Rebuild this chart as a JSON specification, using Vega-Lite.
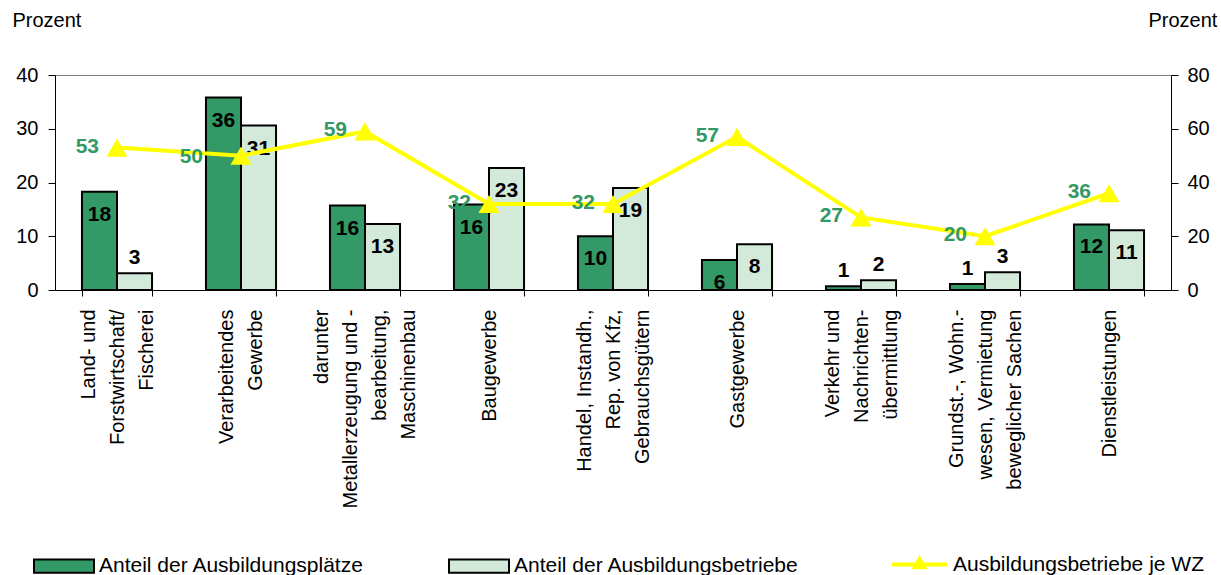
{
  "$schema": "https://vega.github.io/schema/vega-lite/v6.json",
  "autosize": "none",
  "width": 1116,
  "height": 215,
  "padding": {"left": 55, "top": 75, "right": 50, "bottom": 285},
  "background": "white",
  "config": {
    "font": "Liberation Sans",
    "view": {"stroke": "#808080", "strokeWidth": 1},
    "axis": {"domainColor": "black", "tickColor": "black", "labelColor": "black", "titleColor": "black", "grid": false}
  },
  "datasets": {
    "bars": [
      {"cat": "Land- und|Forstwirtschaft/|Fischerei", "series": "Anteil der Ausbildungsplätze", "value": 18.3, "label": "18"},
      {"cat": "Land- und|Forstwirtschaft/|Fischerei", "series": "Anteil der Ausbildungsbetriebe", "value": 3.1, "label": "3"},
      {"cat": "Verarbeitendes|Gewerbe", "series": "Anteil der Ausbildungsplätze", "value": 35.8, "label": "36"},
      {"cat": "Verarbeitendes|Gewerbe", "series": "Anteil der Ausbildungsbetriebe", "value": 30.6, "label": "31"},
      {"cat": "darunter|Metallerzeugung und -|bearbeitung,|Maschinenbau", "series": "Anteil der Ausbildungsplätze", "value": 15.7, "label": "16"},
      {"cat": "darunter|Metallerzeugung und -|bearbeitung,|Maschinenbau", "series": "Anteil der Ausbildungsbetriebe", "value": 12.3, "label": "13"},
      {"cat": "Baugewerbe", "series": "Anteil der Ausbildungsplätze", "value": 15.9, "label": "16"},
      {"cat": "Baugewerbe", "series": "Anteil der Ausbildungsbetriebe", "value": 22.7, "label": "23"},
      {"cat": "Handel, Instandh.,|Rep. von Kfz,|Gebrauchsgütern", "series": "Anteil der Ausbildungsplätze", "value": 10.0, "label": "10"},
      {"cat": "Handel, Instandh.,|Rep. von Kfz,|Gebrauchsgütern", "series": "Anteil der Ausbildungsbetriebe", "value": 19.0, "label": "19"},
      {"cat": "Gastgewerbe", "series": "Anteil der Ausbildungsplätze", "value": 5.6, "label": "6"},
      {"cat": "Gastgewerbe", "series": "Anteil der Ausbildungsbetriebe", "value": 8.5, "label": "8"},
      {"cat": "Verkehr und|Nachrichten-|übermittlung", "series": "Anteil der Ausbildungsplätze", "value": 0.7, "label": "1"},
      {"cat": "Verkehr und|Nachrichten-|übermittlung", "series": "Anteil der Ausbildungsbetriebe", "value": 1.8, "label": "2"},
      {"cat": "Grundst.-, Wohn.-|wesen, Vermietung|beweglicher Sachen", "series": "Anteil der Ausbildungsplätze", "value": 1.1, "label": "1"},
      {"cat": "Grundst.-, Wohn.-|wesen, Vermietung|beweglicher Sachen", "series": "Anteil der Ausbildungsbetriebe", "value": 3.3, "label": "3"},
      {"cat": "Dienstleistungen", "series": "Anteil der Ausbildungsplätze", "value": 12.2, "label": "12"},
      {"cat": "Dienstleistungen", "series": "Anteil der Ausbildungsbetriebe", "value": 11.1, "label": "11"}
    ],
    "line": [
      {"cat": "Land- und|Forstwirtschaft/|Fischerei", "wz": 53},
      {"cat": "Verarbeitendes|Gewerbe", "wz": 50},
      {"cat": "darunter|Metallerzeugung und -|bearbeitung,|Maschinenbau", "wz": 59},
      {"cat": "Baugewerbe", "wz": 32},
      {"cat": "Handel, Instandh.,|Rep. von Kfz,|Gebrauchsgütern", "wz": 32},
      {"cat": "Gastgewerbe", "wz": 57},
      {"cat": "Verkehr und|Nachrichten-|übermittlung", "wz": 27},
      {"cat": "Grundst.-, Wohn.-|wesen, Vermietung|beweglicher Sachen", "wz": 20},
      {"cat": "Dienstleistungen", "wz": 36}
    ]
  },
  "encoding": {
    "x": {
      "field": "cat", "type": "nominal", "sort": null,
      "scale": {"paddingInner": 0.435, "paddingOuter": 0.2175},
      "axis": {
        "title": null,
        "labelExpr": "split(datum.label, '|')",
        "labelAngle": -90,
        "labelAlign": "right",
        "labelBaseline": "middle",
        "labelFontSize": 20,
        "labelLineHeight": 29,
        "labelLimit": 400,
        "labelPadding": 13,
        "labelOffset": {
          "condition": [
            {"test": "length(split(datum.value, '|')) == 4", "value": -43.5},
            {"test": "length(split(datum.value, '|')) == 3", "value": -29},
            {"test": "length(split(datum.value, '|')) == 2", "value": -14.5}
          ],
          "value": 0
        },
        "tickBand": "extent",
        "tickSize": 6,
        "domainColor": "black"
      }
    }
  },
  "layer": [
    {
      "data": {"name": "bars"},
      "layer": [
        {
          "mark": {"type": "bar", "stroke": "black", "strokeWidth": 2},
          "encoding": {
            "xOffset": {"field": "series", "type": "nominal", "sort": ["Anteil der Ausbildungsplätze", "Anteil der Ausbildungsbetriebe"]},
            "y": {
              "field": "value", "type": "quantitative",
              "scale": {"domain": [0, 40], "nice": false},
              "axis": {
                "orient": "left", "values": [0, 10, 20, 30, 40],
                "title": "Prozent", "titleAngle": 0, "titleAlign": "left", "titleBaseline": "middle",
                "titleX": -43, "titleY": -55, "titleFontSize": 20, "titleFontWeight": "normal",
                "labelFontSize": 20, "tickSize": 7, "labelPadding": 10
              }
            },
            "fill": {
              "field": "series", "type": "nominal",
              "scale": {"domain": ["Anteil der Ausbildungsplätze", "Anteil der Ausbildungsbetriebe"], "range": ["#339966", "#d3eadb"]},
              "legend": {
                "title": null, "orient": "none", "direction": "horizontal",
                "legendX": -22, "legendY": 460, "padding": 0,
                "symbolType": "M-1,-0.22H1V0.22H-1Z", "symbolSize": 3600,
                "symbolStrokeColor": "black", "symbolStrokeWidth": 2,
                "labelFontSize": 21, "labelOffset": 4, "columnPadding": 80, "labelLimit": 400
              }
            }
          }
        },
        {
          "transform": [{"filter": "datum.value >= 5"}],
          "mark": {"type": "text", "fontWeight": "bold", "fontSize": 21, "baseline": "middle", "dy": 23, "color": "black"},
          "encoding": {
            "xOffset": {"field": "series", "type": "nominal", "sort": ["Anteil der Ausbildungsplätze", "Anteil der Ausbildungsbetriebe"]},
            "y": {"field": "value", "type": "quantitative"},
            "text": {"field": "label"}
          }
        },
        {
          "transform": [{"filter": "datum.value < 5"}],
          "mark": {"type": "text", "fontWeight": "bold", "fontSize": 21, "baseline": "middle", "dy": -15, "color": "black"},
          "encoding": {
            "xOffset": {"field": "series", "type": "nominal", "sort": ["Anteil der Ausbildungsplätze", "Anteil der Ausbildungsbetriebe"]},
            "y": {"field": "value", "type": "quantitative"},
            "text": {"field": "label"}
          }
        }
      ]
    },
    {
      "data": {"name": "line"},
      "layer": [
        {
          "mark": {"type": "line", "strokeWidth": 4},
          "encoding": {
            "y": {
              "field": "wz", "type": "quantitative",
              "scale": {"domain": [0, 80], "nice": false},
              "axis": {
                "orient": "right", "values": [0, 20, 40, 60, 80],
                "title": "Prozent", "titleAngle": 0, "titleAlign": "left", "titleBaseline": "middle",
                "titleX": -23, "titleY": -55, "titleFontSize": 20, "titleFontWeight": "normal",
                "labelFontSize": 20, "tickSize": 7, "labelPadding": 9
              }
            },
            "stroke": {
              "datum": "Ausbildungsbetriebe je WZ",
              "scale": {"range": ["#ffff00"]},
              "legend": {
                "title": null, "orient": "none", "legendX": 835, "legendY": 460, "padding": 0,
                "symbolType": "M-1,0H1M-0.17,0.1L0,-0.2L0.17,0.1Z", "symbolSize": 3025,
                "symbolFillColor": "#ffff00", "symbolStrokeColor": "#ffff00", "symbolStrokeWidth": 4,
                "labelFontSize": 21, "labelOffset": 4, "labelLimit": 400
              }
            }
          }
        },
        {
          "mark": {"type": "point", "shape": "triangle-up", "filled": true, "fill": "#ffff00", "opacity": 1, "size": 440, "strokeWidth": 0},
          "encoding": {
            "y": {"field": "wz", "type": "quantitative"}
          }
        },
        {
          "transform": [{"filter": "datum.cat != 'Verarbeitendes|Gewerbe'"}],
          "mark": {"type": "text", "fontWeight": "bold", "fontSize": 21, "align": "right", "baseline": "middle", "dx": -18, "dy": -1, "color": "#339966"},
          "encoding": {
            "y": {"field": "wz", "type": "quantitative"},
            "text": {"field": "wz"}
          }
        },
        {
          "transform": [{"filter": "datum.cat == 'Verarbeitendes|Gewerbe'"}],
          "mark": {"type": "text", "fontWeight": "bold", "fontSize": 21, "align": "right", "baseline": "middle", "dx": -38, "dy": 1, "color": "#339966"},
          "encoding": {
            "y": {"field": "wz", "type": "quantitative"},
            "text": {"field": "wz"}
          }
        }
      ]
    }
  ],
  "resolve": {"scale": {"y": "independent"}}
}
